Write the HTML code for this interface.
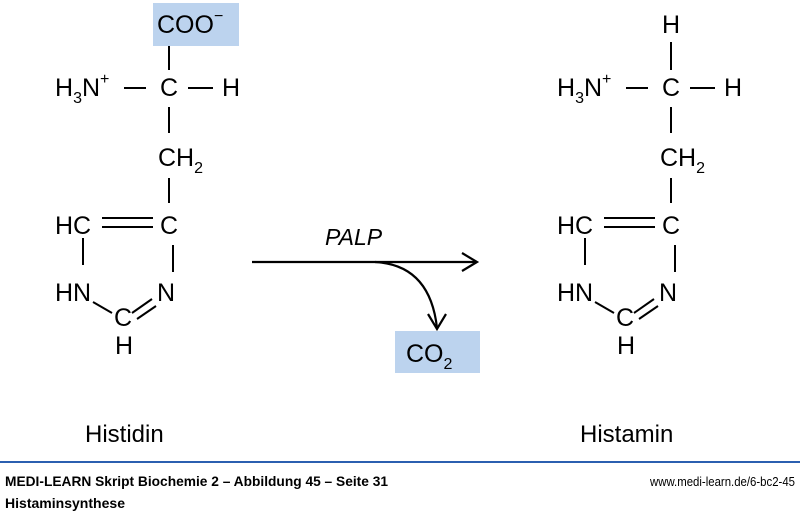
<!DOCTYPE html>
<html><head><meta charset="utf-8"><style>
html,body{margin:0;padding:0;background:#fff;}
svg{display:block}
text{font-family:"Liberation Sans",sans-serif;fill:#000}
.n{font-family:"Liberation Sans Narrow","Liberation Sans",sans-serif}
</style></head><body>
<svg width="800" height="514" viewBox="0 0 800 514" xmlns="http://www.w3.org/2000/svg">
<!-- Left molecule -->
<rect x="153" y="3" width="86" height="43" fill="#bcd3ee"/>
<g font-size="25">
<text x="157" y="33">COO<tspan font-size="16" dy="-12">−</tspan></text>
<text x="55" y="96">H<tspan font-size="16" dy="7">3</tspan><tspan dy="-7">N</tspan><tspan font-size="16" dy="-12">+</tspan></text>
<text x="160" y="96">C</text>
<text x="222" y="96">H</text>
<text x="158" y="166">CH<tspan font-size="16" dy="7">2</tspan></text>
<text x="55" y="234">HC</text>
<text x="160" y="234">C</text>
<text x="55" y="301">HN</text>
<text x="157" y="301">N</text>
<text x="114" y="326">C</text>
<text x="115" y="354">H</text>
</g>
<g stroke="#000" stroke-width="2" fill="none">
<line x1="169" y1="46" x2="169" y2="70"/>
<line x1="124" y1="88" x2="146" y2="88"/>
<line x1="188" y1="88" x2="213" y2="88"/>
<line x1="169" y1="107" x2="169" y2="133"/>
<line x1="169" y1="178" x2="169" y2="203"/>
<line x1="102" y1="218" x2="153" y2="218"/>
<line x1="102" y1="227" x2="153" y2="227"/>
<line x1="83" y1="238" x2="83" y2="265"/>
<line x1="173" y1="245" x2="173" y2="272"/>
<line x1="93" y1="302" x2="112" y2="313"/>
<line x1="132" y1="313" x2="152" y2="299"/>
<line x1="137" y1="319" x2="156" y2="306"/>
</g>
<!-- Right molecule -->
<g font-size="25">
<text x="662" y="33">H</text>
<text x="557" y="96">H<tspan font-size="16" dy="7">3</tspan><tspan dy="-7">N</tspan><tspan font-size="16" dy="-12">+</tspan></text>
<text x="662" y="96">C</text>
<text x="724" y="96">H</text>
<text x="660" y="166">CH<tspan font-size="16" dy="7">2</tspan></text>
<text x="557" y="234">HC</text>
<text x="662" y="234">C</text>
<text x="557" y="301">HN</text>
<text x="659" y="301">N</text>
<text x="616" y="326">C</text>
<text x="617" y="354">H</text>
</g>
<g stroke="#000" stroke-width="2" fill="none">
<line x1="671" y1="42" x2="671" y2="70"/>
<line x1="626" y1="88" x2="648" y2="88"/>
<line x1="690" y1="88" x2="715" y2="88"/>
<line x1="671" y1="107" x2="671" y2="133"/>
<line x1="671" y1="178" x2="671" y2="203"/>
<line x1="604" y1="218" x2="655" y2="218"/>
<line x1="604" y1="227" x2="655" y2="227"/>
<line x1="585" y1="238" x2="585" y2="265"/>
<line x1="675" y1="245" x2="675" y2="272"/>
<line x1="595" y1="302" x2="614" y2="313"/>
<line x1="634" y1="313" x2="654" y2="299"/>
<line x1="639" y1="319" x2="658" y2="306"/>
</g>
<!-- Arrow -->
<g stroke="#000" stroke-width="2.2" fill="none">
<line x1="252" y1="262" x2="477" y2="262"/>
<polyline points="462,253 477,262 462,271"/>
<path d="M375 262 Q430 265 437 328"/>
<polyline points="428,314 437,329 446,314"/>
</g>
<text x="325" y="245" font-size="23" font-style="italic">PALP</text>
<rect x="395" y="331" width="85" height="42" fill="#bcd3ee"/>
<text x="406" y="362" font-size="25">CO<tspan font-size="16" dy="7">2</tspan></text>
<text x="85" y="442" font-size="24" class="n">Histidin</text>
<text x="580" y="442" font-size="24" class="n">Histamin</text>
<!-- Footer -->
<line x1="0" y1="462" x2="800" y2="462" stroke="#2b5fb0" stroke-width="2"/>
<text x="5" y="486" font-size="14" font-weight="bold" class="n" textLength="383" lengthAdjust="spacingAndGlyphs">MEDI-LEARN Skript Biochemie 2 – Abbildung 45 – Seite 31</text>
<text x="795" y="486" font-size="13" text-anchor="end" class="n" textLength="145" lengthAdjust="spacingAndGlyphs">www.medi-learn.de/6-bc2-45</text>
<text x="5" y="508" font-size="14" font-weight="bold" class="n" textLength="120" lengthAdjust="spacingAndGlyphs">Histaminsynthese</text>
</svg>
</body></html>
